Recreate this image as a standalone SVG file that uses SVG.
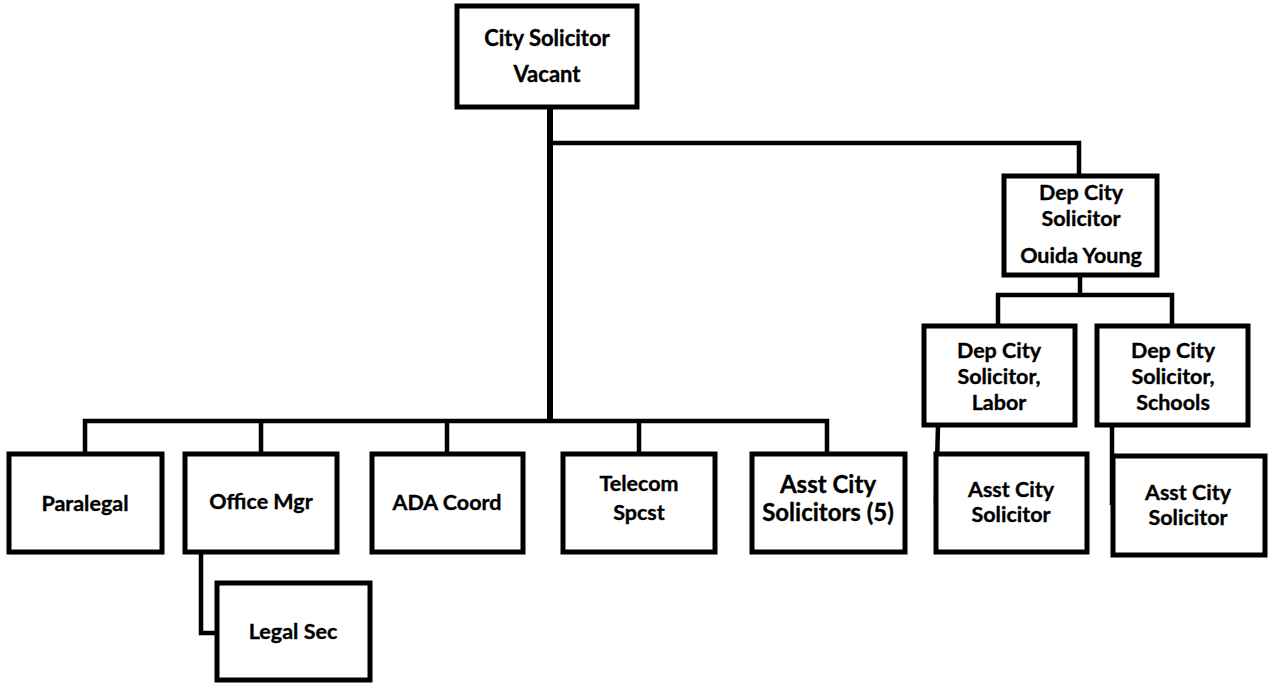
<svg xmlns="http://www.w3.org/2000/svg" width="1268" height="683" viewBox="0 0 1268 683">
<style>
.box{fill:#fff;stroke:#000;stroke-width:5;}
.ln{fill:none;stroke:#000;stroke-width:4.5;stroke-linejoin:miter;}
text{font-family:Lato,"Liberation Sans",sans-serif;font-weight:bold;font-size:21.5px;fill:#000;stroke:#000;stroke-width:0.35;text-anchor:middle;}
.big{font-size:22px;}
.bigger{font-size:24px;}
</style>
<rect width="1268" height="683" fill="#fff"/>
<g id="connectors">
<path class="ln" d="M550,107 V421" style="stroke-width:6"/>
<path class="ln" d="M550,143 H1079 V175"/>
<path class="ln" d="M85,453 V421 H827 V453"/>
<path class="ln" d="M261,421 V453 M447,421 V453 M639,421 V453"/>
<path class="ln" d="M1080,275 V295 M998,325 V295 H1172 V325"/>
<path class="ln" d="M938,425 L936,502"/>
<path class="ln" d="M1112,425 V505"/>
<path class="ln" d="M201,553 V633 H216"/>
</g>
<g id="city-solicitor">
<rect class="box" x="457" y="6" width="180" height="101"/>
<text class="big" x="547" y="46">City Solicitor</text>
<text class="big" x="547" y="82">Vacant</text>
</g>
<g id="dep-city-solicitor">
<rect class="box" x="1004" y="176" width="153" height="99"/>
<text x="1081" y="200">Dep City</text>
<text x="1081" y="226">Solicitor</text>
<text x="1081" y="263">Ouida Young</text>
</g>
<g id="dep-labor">
<rect class="box" x="924" y="326" width="151" height="99"/>
<text x="999" y="358">Dep City</text>
<text x="999" y="384">Solicitor,</text>
<text x="999" y="410">Labor</text>
</g>
<g id="dep-schools">
<rect class="box" x="1097" y="326" width="151" height="99"/>
<text x="1173" y="358">Dep City</text>
<text x="1173" y="384">Solicitor,</text>
<text x="1173" y="410">Schools</text>
</g>
<g id="asst-labor">
<rect class="box" x="936" y="454" width="151" height="98"/>
<text x="1011" y="497">Asst City</text>
<text x="1011" y="522">Solicitor</text>
</g>
<g id="asst-schools">
<rect class="box" x="1113" y="456" width="152" height="99"/>
<text x="1188" y="500">Asst City</text>
<text x="1188" y="525">Solicitor</text>
</g>
<g id="paralegal">
<rect x="11" y="456" width="153" height="99" fill="#bbb" opacity="0.5"/>
<rect class="box" x="9" y="454" width="153" height="98"/>
<text x="85" y="511">Paralegal</text>
</g>
<g id="office-mgr">
<rect class="box" x="185" y="454" width="152" height="98"/>
<text x="261" y="509">Office Mgr</text>
</g>
<g id="ada-coord">
<rect class="box" x="372" y="454" width="151" height="98"/>
<text x="447" y="510">ADA Coord</text>
</g>
<g id="telecom">
<rect class="box" x="563" y="454" width="152" height="98"/>
<text x="639" y="491">Telecom</text>
<text x="639" y="520">Spcst</text>
</g>
<g id="asst-city-solicitors">
<rect class="box" x="752" y="454" width="153" height="98"/>
<text class="bigger" x="828" y="493">Asst City</text>
<text class="bigger" x="828" y="521">Solicitors (5)</text>
</g>
<g id="legal-sec">
<rect class="box" x="217" y="583" width="153" height="97"/>
<text x="293" y="639">Legal Sec</text>
</g>
</svg>
